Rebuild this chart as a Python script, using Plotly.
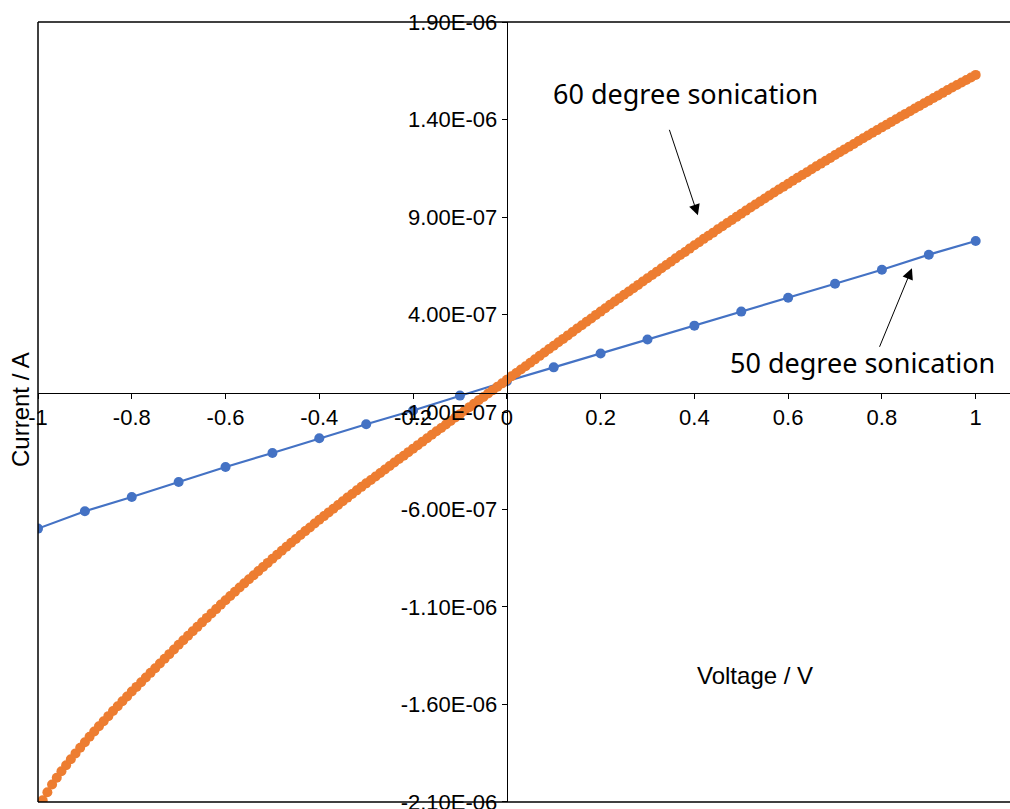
import plotly.graph_objects as go

# ---------------- data ----------------
voltage_50 = [-1.0, -0.9, -0.8, -0.7, -0.6, -0.5, -0.4, -0.3, -0.2, -0.1, 0.0,
              0.1, 0.2, 0.3, 0.4, 0.5, 0.6, 0.7, 0.8, 0.9, 1.0]
current_50_uA = [-0.698, -0.609, -0.536, -0.459, -0.382, -0.310, -0.235, -0.163, -0.092, -0.016, 0.058,
                 0.129, 0.200, 0.272, 0.343, 0.415, 0.486, 0.558, 0.630, 0.707, 0.777]

voltage_60 = [round(-0.99 + 0.01 * i, 2) for i in range(200)]
current_60_uA = [
    -2.091, -2.050, -2.011, -1.976, -1.943, -1.912, -1.881, -1.851, -1.822, -1.794,
    -1.766, -1.739, -1.712, -1.686, -1.660, -1.634, -1.609, -1.584, -1.559, -1.534,
    -1.510, -1.486, -1.462, -1.438, -1.414, -1.390, -1.366, -1.342, -1.318, -1.294,
    -1.271, -1.248, -1.225, -1.202, -1.179, -1.156, -1.133, -1.111, -1.088, -1.066,
    -1.044, -1.022, -1.000, -0.979, -0.958, -0.937, -0.916, -0.895, -0.874, -0.853,
    -0.832, -0.812, -0.791, -0.771, -0.751, -0.731, -0.711, -0.692, -0.672, -0.653,
    -0.634, -0.615, -0.596, -0.577, -0.558, -0.539, -0.521, -0.502, -0.484, -0.466,
    -0.449, -0.431, -0.413, -0.395, -0.377, -0.359, -0.341, -0.324, -0.306, -0.288,
    -0.270, -0.252, -0.235, -0.217, -0.199, -0.182, -0.164, -0.146, -0.128, -0.111,
    -0.093, -0.075, -0.058, -0.040, -0.023, -0.005, 0.012, 0.030, 0.047, 0.065,
    0.083, 0.100, 0.118, 0.135, 0.153, 0.170, 0.188, 0.205, 0.223, 0.240,
    0.258, 0.275, 0.293, 0.310, 0.328, 0.345, 0.363, 0.380, 0.398, 0.415,
    0.432, 0.450, 0.467, 0.484, 0.501, 0.518, 0.535, 0.552, 0.569, 0.586,
    0.603, 0.620, 0.637, 0.654, 0.671, 0.688, 0.705, 0.721, 0.738, 0.755,
    0.771, 0.788, 0.804, 0.820, 0.837, 0.853, 0.869, 0.885, 0.901, 0.917,
    0.933, 0.949, 0.964, 0.980, 0.995, 1.011, 1.026, 1.041, 1.056, 1.071,
    1.086, 1.101, 1.116, 1.130, 1.145, 1.160, 1.174, 1.189, 1.203, 1.218,
    1.232, 1.247, 1.261, 1.275, 1.290, 1.304, 1.318, 1.332, 1.346, 1.360,
    1.374, 1.388, 1.402, 1.416, 1.429, 1.443, 1.457, 1.470, 1.484, 1.497,
    1.511, 1.524, 1.537, 1.551, 1.564, 1.577, 1.590, 1.603, 1.616, 1.629,
]

x_tick_vals = [-1, -0.8, -0.6, -0.4, -0.2, 0, 0.2, 0.4, 0.6, 0.8, 1]
x_tick_text = ["-1", "-0.8", "-0.6", "-0.4", "-0.2", "0", "0.2", "0.4", "0.6", "0.8", "1"]
y_tick_vals = [-2.1e-6, -1.6e-6, -1.1e-6, -6e-7, -1e-7, 4e-7, 9e-7, 1.4e-6, 1.9e-6]
y_tick_text = ["-2.10E-06", "-1.60E-06", "-1.10E-06", "-6.00E-07", "-1.00E-07",
               "4.00E-07", "9.00E-07", "1.40E-06", "1.90E-06"]

label_60 = "60 degree sonication"
label_50 = "50 degree sonication"

# ---------------- layout constants ----------------
W, H = 1010, 809
X_RANGE = [-1.0, 1.0732]
Y_RANGE = [-2.1004e-6, 1.9004e-6]
ML, MR, MT, MB = 38, 0, 22, 7

BLUE = "#4472C4"
ORANGE = "#ED7D31"
SANS = "Liberation Sans, Arial, sans-serif"
TICK_FONT = dict(family=SANS, size=22, color="#000000")
NOTE_FONT = dict(family="Noto Sans, Open Sans, sans-serif", size=27, color="#000000")

fig = go.Figure()
fig.add_trace(go.Scatter(
    x=voltage_50, y=[v * 1e-6 for v in current_50_uA], mode="lines+markers",
    line=dict(color=BLUE, width=2.2), marker=dict(color=BLUE, size=10),
    name="50 degree sonication", showlegend=False))
fig.add_trace(go.Scatter(
    x=voltage_60, y=[v * 1e-6 for v in current_60_uA], mode="lines+markers",
    line=dict(color=ORANGE, width=2.5), marker=dict(color=ORANGE, size=10),
    name="60 degree sonication", showlegend=False))

x_zero_pos = (0 - X_RANGE[0]) / (X_RANGE[1] - X_RANGE[0])
y_zero_pos = (0 - Y_RANGE[0]) / (Y_RANGE[1] - Y_RANGE[0])

fig.update_layout(
    width=W, height=H,
    margin=dict(l=ML, r=MR, t=MT, b=MB, pad=0, autoexpand=False),
    paper_bgcolor="white", plot_bgcolor="white",
    xaxis=dict(range=X_RANGE, showgrid=False, zeroline=False, automargin=False,
               showline=True, linecolor="#000000", linewidth=1.3,
               anchor="free", position=y_zero_pos,
               ticks="outside", ticklen=5, tickcolor="#000000", tickwidth=1.3,
               ticklabeloverflow="allow",
               tickvals=x_tick_vals, ticktext=x_tick_text, tickfont=TICK_FONT),
    yaxis=dict(range=Y_RANGE, showgrid=False, zeroline=False, automargin=False,
               showline=True, linecolor="#000000", linewidth=1.3,
               anchor="free", position=x_zero_pos,
               ticks="outside", ticklen=5, tickcolor="#000000", tickwidth=1.3,
               ticklabeloverflow="allow",
               tickvals=y_tick_vals, ticktext=y_tick_text, tickfont=TICK_FONT),
)

# plot-area frame (left, top, bottom)
frame = dict(color="#000000", width=1.5)
fig.add_shape(type="line", xref="paper", yref="paper", x0=0, x1=0, y0=0, y1=1, line=frame)
fig.add_shape(type="line", xref="paper", yref="paper", x0=0, x1=1, y0=1, y1=1, line=frame)
fig.add_shape(type="line", xref="paper", yref="paper", x0=0, x1=1, y0=0, y1=0, line=frame)

# axis titles
fig.add_annotation(text="Current / A", xref="paper", yref="paper",
                   x=(20 - ML) / (W - ML - MR), y=1 - (410 - MT) / (H - MT - MB),
                   showarrow=False, textangle=-90, xanchor="center", yanchor="middle",
                   font=dict(family=SANS, size=24, color="#000000"))
fig.add_annotation(text="Voltage / V", xref="paper", yref="paper",
                   x=(755 - ML) / (W - ML - MR), y=1 - (675 - MT) / (H - MT - MB),
                   showarrow=False, xanchor="center", yanchor="middle",
                   font=dict(family=SANS, size=24, color="#000000"))

# callout labels
fig.add_annotation(text=label_60, x=0.382, y=1.534e-6, showarrow=False,
                   xanchor="center", yanchor="middle", font=NOTE_FONT)
fig.add_annotation(text=label_50, x=0.7596, y=0.155e-6, showarrow=False,
                   xanchor="center", yanchor="middle", font=NOTE_FONT)

# arrows
fig.add_annotation(text="", x=0.4075, y=0.9087e-6, ax=-29, ay=-87,
                   showarrow=True, arrowhead=2, arrowsize=2.2, arrowwidth=1, arrowcolor="#000000")
fig.add_annotation(text="", x=0.864, y=0.637e-6, ax=-33, ay=80,
                   showarrow=True, arrowhead=2, arrowsize=2.2, arrowwidth=1, arrowcolor="#000000")

fig.write_html("out.html")
